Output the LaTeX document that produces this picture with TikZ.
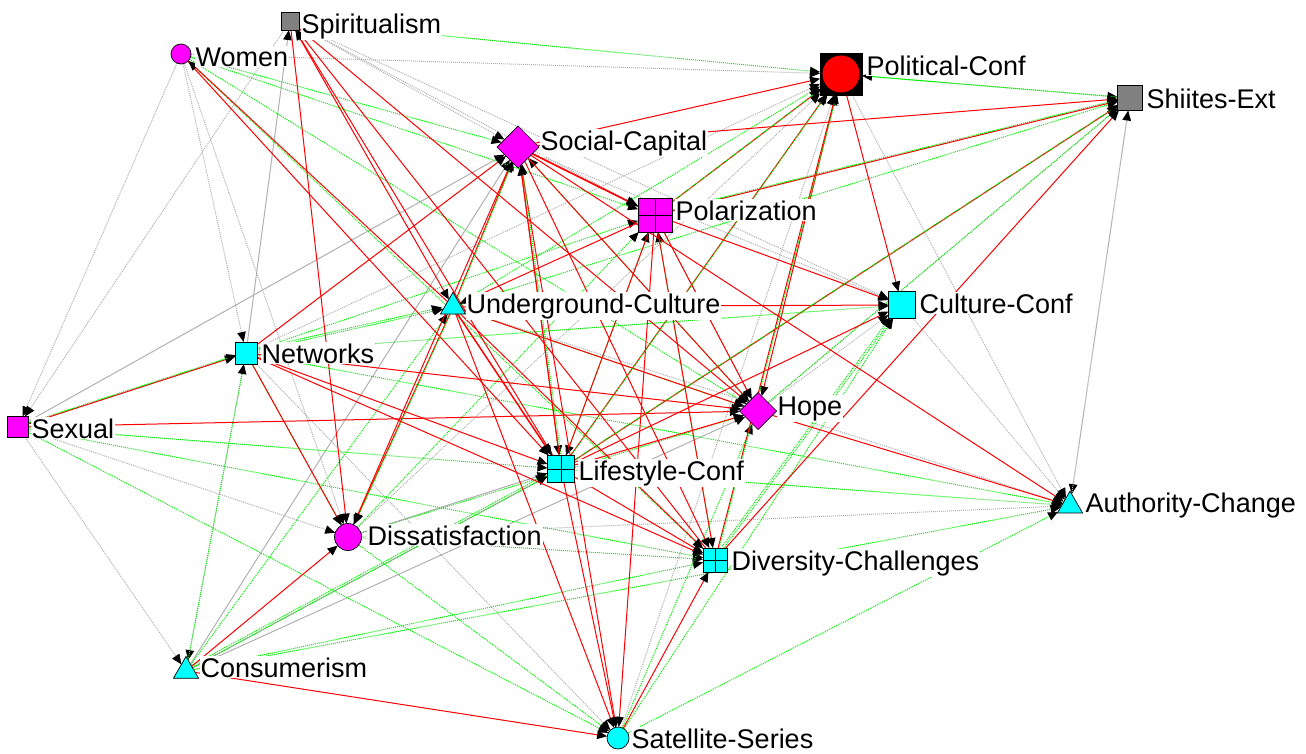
\documentclass[tikz,border=0pt]{standalone}
\usepackage{fontspec}
\setmainfont{Liberation Sans}
\usetikzlibrary{shapes.geometric,arrows.meta}
\pgfdeclarelayer{bg}
\pgfsetlayers{bg,main}
\definecolor{mag}{RGB}{255,0,255}
\definecolor{cyn}{RGB}{0,255,255}
\definecolor{gry}{RGB}{128,128,128}
\definecolor{rd}{RGB}{255,0,0}
\definecolor{gn}{RGB}{0,240,0}
\definecolor{lg}{RGB}{176,176,176}
\tikzset{
  nd/.style={draw=black, line width=0.7pt, inner sep=0pt, outer sep=0pt},
  sqn/.style={nd, rectangle, minimum size=#1},
  crn/.style={nd, circle, minimum size=#1},
  dmn/.style={nd, diamond, minimum width=#1, minimum height=#1},
  trn/.style={nd, regular polygon, regular polygon sides=3, minimum size=#1},
  gridbox/.style={path picture={\draw[line width=0.7pt] (path picture bounding box.north) -- (path picture bounding box.south) (path picture bounding box.west) -- (path picture bounding box.east);}},
  lbl/.style={fill=white, inner sep=1pt, anchor=base west, font=\fontsize{27}{30}\selectfont},
  tip/.style={-{Triangle[length=10pt,width=8.5pt,color=black]}},
  Re/.style={tip, draw=rd, line width=1pt},
  Ge/.style={tip, draw=gn, line width=1pt, dash pattern=on 1pt off 1pt},
  Ye/.style={tip, draw=lg, line width=1pt, dash pattern=on 1pt off 1pt},
  Se/.style={tip, draw=lg, line width=1pt},
  off/.style={transform canvas={shift={(1.4pt,1.4pt)}}},
  offb/.style={transform canvas={shift={(-1.6pt,1.6pt)}}},
}
\begin{document}
\begin{tikzpicture}[x=1pt,y=-1pt]
\useasboundingbox (0,0) rectangle (1306,753);
% nodes
\node[sqn=18, fill=gry] (SP) at (290,21) {};
\node[crn=20, fill=mag] (WO) at (181,54) {};
\node[sqn=42, fill=black] (PC) at (841,74) {};
\node[circle, fill=rd, minimum size=37, inner sep=0pt] (PCi) at (841,74) {};
\node[sqn=25, fill=gry] (SE) at (1130,98) {};
\node[dmn=42, fill=mag] (SC) at (518,147) {};
\node[sqn=34, fill=mag, gridbox] (PO) at (655,215) {};
\node[trn=29, fill=cyn] (UC) at (453,306.8) {};
\node[sqn=27, fill=cyn] (CC) at (902,305) {};
\node[sqn=22, fill=cyn] (NE) at (246,353) {};
\node[sqn=21, fill=mag] (SX) at (18,427) {};
\node[dmn=37, fill=mag] (HO) at (758,411) {};
\node[sqn=27, fill=cyn, gridbox] (LC) at (561,469) {};
\node[trn=29, fill=cyn] (AC) at (1070,505.7) {};
\node[crn=27, fill=mag] (DI) at (348,537) {};
\node[sqn=24, fill=cyn, gridbox] (DC) at (715,560) {};
\node[trn=29, fill=cyn] (CO) at (186,671) {};
\node[crn=22, fill=cyn] (SS) at (618,738) {};
% labels
\node[lbl] (lSP) at (300.5,33) {Spiritualism};
\node[lbl] (lWO) at (194.5,66) {Women};
\node[lbl] (lPC) at (865.5,75) {Political-Conf};
\node[lbl] (lSE) at (1145.5,108) {Shiites-Ext};
\node[lbl] (lSC) at (539.5,150) {Social-Capital};
\node[lbl] (lPO) at (674.5,220) {Polarization};
\node[lbl] (lUC) at (465.5,313) {Underground-Culture};
\node[lbl] (lCC) at (918.5,313) {Culture-Conf};
\node[lbl] (lNE) at (260.5,363) {Networks};
\node[lbl] (lSX) at (30.5,438) {Sexual};
\node[lbl] (lHO) at (776.5,415) {Hope};
\node[lbl] (lLC) at (577.5,480) {Lifestyle-Conf};
\node[lbl] (lAC) at (1084.5,512) {Authority-Change};
\node[lbl] (lDI) at (366.5,545) {Dissatisfaction};
\node[lbl] (lDC) at (730.5,570) {Diversity-Challenges};
\node[lbl] (lCO) at (199.5,677) {Consumerism};
\node[lbl] (lSS) at (630.5,748) {Satellite-Series};
% edges
\begin{pgfonlayer}{bg}
% gray dotted
\foreach \a/\b in {DI/AC, PC/AC, CC/AC, WO/PC, WO/NE, WO/DI, WO/SX, SP/SX, SP/SC, SX/CO, SX/DI, NE/SX, NE/CO, NE/SS, SS/PC, HO/CC, NE/PC, DI/PC, SP/CC, HO/SE, SP/PO, PO/HO, SC/CC, UC/AC, SE/AC, AC/SE}
  \draw[Ye] (\a) -- (\b);
% gray solid
\foreach \a/\b in {NE/SP, SX/SC, CO/SC, CO/HO, DI/LC, CO/LC}
  \draw[Se] (\a) -- (\b);
% green dotted
\foreach \a/\b in {SS/AC, CO/AC, LC/AC, NE/AC, UC/SE, SP/PC, UC/PC, DC/CC, NE/CC, WO/PO, WO/HO, WO/SC, WO/DC, SX/LC, SX/DC, SX/SS, NE/UC, NE/PO, CO/NE, CO/UC, CO/LC, CO/DC, DI/SS, DI/DC, SS/HO, SS/CC, NE/DI, HO/SE, LC/PO, DI/PO, UC/HO, DC/PO, HO/SC, DI/HO, PC/SE, SE/PC}
  \draw[Ge] (\a) -- (\b);
\foreach \a/\b in {DC/CC, NE/UC, CO/LC}
  \draw[Ge, offb] (\a) -- (\b);
% red
\foreach \a/\b in {SC/PC, SC/SE, PC/HO, PC/CC, UC/CC, NE/SC, SX/HO, CO/SS, CO/DI, DI/SC, NE/DI, SS/DC, HO/AC, SC/AC, DC/SE, LC/CC, PO/CC, SP/DI, WO/LC, UC/WO, SP/UC, LC/SP, SP/HO, DC/SP, SC/PO, UC/LC, UC/DC, UC/HO, UC/SS, LC/DC, LC/SS, LC/HO, NE/LC, NE/HO, NE/DC, PO/LC, PO/DC, PO/SS, PO/HO, PO/UC, SC/SS, SC/LC, SC/DC, SC/HO}
  \draw[Re] (\a) -- (\b);
\foreach \a/\b in {SC/PO, UC/LC}
  \draw[Re, offb] (\a) -- (\b);
% red with green
\foreach \a/\b in {PO/PC, LC/PC, SX/NE, LC/SE, PO/SE, LC/SC, UC/SC, UC/DI, DC/PC}
  {\draw[Re] (\a) -- (\b); \draw[Ge, off] (\a) -- (\b);}
\end{pgfonlayer}
\end{tikzpicture}
\end{document}
